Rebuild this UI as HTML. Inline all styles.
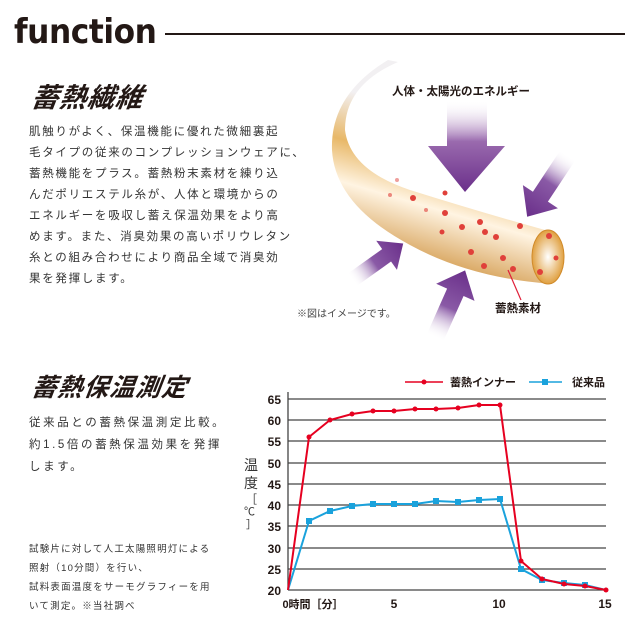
<!DOCTYPE html>
<html><head><meta charset="utf-8"><style>
body{margin:0;width:640px;height:640px;background:#fff;position:relative;overflow:hidden;font-family:"Liberation Sans","Noto Sans CJK JP",sans-serif;color:#231815}
.a{position:absolute;white-space:nowrap}
.p{font-size:11.5px;letter-spacing:1.7px;line-height:21px;color:#333}
</style></head><body>
<div class="a" style="left:14px;top:12px;font-size:34px;font-family:'DejaVu Sans',sans-serif;font-weight:bold;letter-spacing:-0.5px;transform:scaleX(0.92);transform-origin:left">function</div>
<div class="a" style="left:165px;top:33px;width:460px;height:2px;background:#231815"></div>
<div class="a" style="left:32px;top:76px;font-size:27px;font-weight:bold;font-style:italic;transform:skewX(-8deg);letter-spacing:1px">蓄熱繊維</div>
<div class="a p" style="left:29px;top:122px">肌触りがよく、保温機能に優れた微細裏起<br>毛タイプの従来のコンプレッションウェアに、<br>蓄熱機能をプラス。蓄熱粉末素材を練り込<br>んだポリエステル糸が、人体と環境からの<br>エネルギーを吸収し蓄え保温効果をより高<br>めます。また、消臭効果の高いポリウレタン<br>糸との組み合わせにより商品全域で消臭効<br>果を発揮します。</div>

<svg class="a" style="left:0;top:0" width="640" height="640">
<defs>
<linearGradient id="fb" x1="0.3" y1="0.2" x2="0.1" y2="0.9"><stop offset="0" stop-color="#f2f0f2"/><stop offset="0.3" stop-color="#e8b868"/><stop offset="0.55" stop-color="#fff4e2"/><stop offset="1" stop-color="#c9862a"/></linearGradient>
<radialGradient id="cap"><stop offset="0" stop-color="#fff"/><stop offset="1" stop-color="#e0a040"/></radialGradient>
<linearGradient id="ad" x1="0" y1="0" x2="0" y2="1"><stop offset="0" stop-color="#fff" stop-opacity="0"/><stop offset="0.45" stop-color="#9a6aae"/><stop offset="1" stop-color="#6a2f8a"/></linearGradient>
<linearGradient id="ah" x1="0" y1="0" x2="1" y2="0"><stop offset="0" stop-color="#fff" stop-opacity="0"/><stop offset="0.45" stop-color="#8a5aa6"/><stop offset="1" stop-color="#6a2f8a"/></linearGradient>
<g id="arr"><polygon points="0,-9 50,-9 50,-21 74,0 50,21 50,9 0,9" fill="url(#ah)"/></g>
</defs>
<path d="M398,62 Q345,85 345,130 Q350,170 410,190 Q480,212 545,230 L552,284 Q470,278 410,245 Q335,205 332,150 Q330,95 388,60 Z" fill="url(#fb)"/>
<ellipse cx="548" cy="257" rx="16" ry="27" fill="url(#cap)" stroke="#d08a2a"/>
<g fill="#e0403a">
<circle cx="413" cy="198" r="3"/><circle cx="445" cy="193" r="2.5"/><circle cx="445" cy="213" r="3"/><circle cx="462" cy="227" r="3"/><circle cx="480" cy="222" r="3"/><circle cx="485" cy="232" r="3"/><circle cx="442" cy="232" r="2.5"/><circle cx="496" cy="237" r="3"/><circle cx="520" cy="226" r="3"/><circle cx="471" cy="252" r="3"/><circle cx="503" cy="258" r="3"/><circle cx="513" cy="269" r="3"/><circle cx="484" cy="266" r="3"/><circle cx="549" cy="236" r="3"/><circle cx="556" cy="258" r="2.5"/><circle cx="540" cy="272" r="3"/><circle cx="390" cy="195" r="2" opacity=".6"/><circle cx="397" cy="180" r="2" opacity=".5"/><circle cx="426" cy="210" r="2" opacity=".6"/>
</g>
<path d="M508,270 L521,300" stroke="#e0203a" stroke-width="1.2"/>
<path d="M447,100 L487,100 L487,146 L505,146 L465,192 L428,146 L447,146 Z" fill="url(#ad)"/>
<use href="#arr" transform="translate(568,155) rotate(123.5)"/>
<use href="#arr" transform="translate(352,280) rotate(-35.5) scale(0.85)"/>
<use href="#arr" transform="translate(435,338) rotate(-66)"/>
</svg>
<div class="a" style="left:392px;top:83px;font-size:11.5px;font-weight:bold">人体・太陽光のエネルギー</div>
<div class="a" style="left:297px;top:305px;font-size:10px;color:#444">※図はイメージです。</div>
<div class="a" style="left:495px;top:300px;font-size:11.5px;font-weight:bold">蓄熱素材</div>

<div class="a" style="left:32px;top:368px;font-size:25px;font-weight:bold;font-style:italic;transform:skewX(-8deg);letter-spacing:1px">蓄熱保温測定</div>
<div class="a p" style="left:29px;top:412px;font-size:11.5px;line-height:22px;letter-spacing:2.6px">従来品との蓄熱保温測定比較。<br>約1.5倍の蓄熱保温効果を発揮<br>します。</div>
<div class="a" style="left:29px;top:540px;font-size:9.5px;line-height:19px;letter-spacing:1.2px;color:#333">試験片に対して人工太陽照明灯による<br>照射（10分間）を行い、<br>試料表面温度をサーモグラフィーを用<br>いて測定。※当社調べ</div>

<svg class="a" style="left:0;top:0" width="640" height="640" font-family="Liberation Sans, Noto Sans CJK JP, sans-serif">
<g stroke="#444" stroke-width="1.3">
<line x1="288" y1="399" x2="606" y2="399"/><line x1="288" y1="420" x2="606" y2="420"/><line x1="288" y1="441" x2="606" y2="441"/><line x1="288" y1="463" x2="606" y2="463"/><line x1="288" y1="484" x2="606" y2="484"/><line x1="288" y1="505" x2="606" y2="505"/><line x1="288" y1="526" x2="606" y2="526"/><line x1="288" y1="548" x2="606" y2="548"/><line x1="288" y1="569" x2="606" y2="569"/><line x1="288" y1="590" x2="606" y2="590"/>
<line x1="288" y1="392" x2="288" y2="590"/>
</g>
<g font-size="12" font-weight="bold" fill="#231815" text-anchor="end">
<text x="281" y="404">65</text><text x="281" y="425">60</text><text x="281" y="446">55</text><text x="281" y="468">50</text><text x="281" y="489">45</text><text x="281" y="510">40</text><text x="281" y="531">35</text><text x="281" y="553">30</text><text x="281" y="574">25</text><text x="281" y="595">20</text>
</g>
<g font-size="12" font-weight="bold" fill="#231815" text-anchor="middle">
<text x="313" y="608" font-size="11">0時間［分］</text><text x="394" y="608">5</text><text x="499" y="608">10</text><text x="605" y="608">15</text>
</g>
<text x="244" y="470" font-size="14" fill="#333">温</text><text x="244" y="488" font-size="14" fill="#333">度</text>
<text x="246" y="503" font-size="11" fill="#333">［</text><text x="244" y="515" font-size="11" fill="#333">℃</text><text x="246" y="528" font-size="11" fill="#333">］</text>
<polyline fill="none" stroke="#1aa2dc" stroke-width="2" points="288,590 309,521 330,511 352,506 373,504 394,504 415,504 436,501 458,502 479,500 500,499 521,569 542,580 564,583 585,585 606,590"/>
<g fill="#1aa2dc"><rect x="306" y="518" width="6" height="6"/><rect x="327" y="508" width="6" height="6"/><rect x="349" y="503" width="6" height="6"/><rect x="370" y="501" width="6" height="6"/><rect x="391" y="501" width="6" height="6"/><rect x="412" y="501" width="6" height="6"/><rect x="433" y="498" width="6" height="6"/><rect x="455" y="499" width="6" height="6"/><rect x="476" y="497" width="6" height="6"/><rect x="497" y="496" width="6" height="6"/><rect x="518" y="566" width="6" height="6"/><rect x="539" y="577" width="6" height="6"/><rect x="561" y="580" width="6" height="6"/><rect x="582" y="582" width="6" height="6"/></g>
<polyline fill="none" stroke="#e60020" stroke-width="2" points="288,590 309,437 330,420 352,414 373,411 394,411 415,409 436,409 458,408 479,405 500,405 521,561 542,579 564,584 585,586 606,590"/>
<g fill="#e60020"><circle cx="309" cy="437" r="2.5"/><circle cx="330" cy="420" r="2.5"/><circle cx="352" cy="414" r="2.5"/><circle cx="373" cy="411" r="2.5"/><circle cx="394" cy="411" r="2.5"/><circle cx="415" cy="409" r="2.5"/><circle cx="436" cy="409" r="2.5"/><circle cx="458" cy="408" r="2.5"/><circle cx="479" cy="405" r="2.5"/><circle cx="500" cy="405" r="2.5"/><circle cx="521" cy="561" r="2.5"/><circle cx="542" cy="579" r="2.5"/><circle cx="564" cy="584" r="2.5"/><circle cx="585" cy="586" r="2.5"/><circle cx="606" cy="590" r="2.5"/></g>
<line x1="405" y1="382" x2="443" y2="382" stroke="#e60020" stroke-width="1.5"/><circle cx="424" cy="382" r="2.5" fill="#e60020"/>
<text x="450" y="386" font-size="11" font-weight="bold" fill="#231815">蓄熱インナー</text>
<line x1="529" y1="382" x2="562" y2="382" stroke="#1aa2dc" stroke-width="1.5"/><rect x="542" y="379" width="6" height="6" fill="#1aa2dc"/>
<text x="572" y="386" font-size="11" font-weight="bold" fill="#231815">従来品</text>
</svg>
</body></html>
